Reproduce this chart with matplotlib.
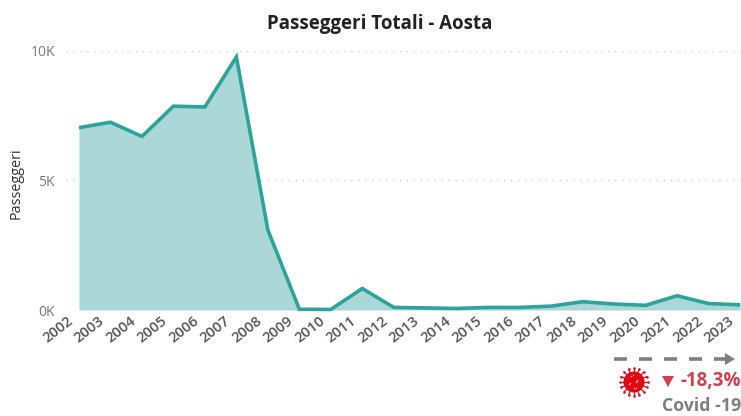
import numpy as np
import matplotlib
matplotlib.use("Agg")
import matplotlib.pyplot as plt
from matplotlib.patches import Circle
from matplotlib.transforms import ScaledTranslation

plt.rcParams['font.family'] = ['Open Sans', 'DejaVu Sans']

years = list(range(2002, 2024))
passeggeri = [7040, 7250, 6700, 7870, 7840, 9770, 3090, 30, 20, 830, 100, 80,
              60, 100, 100, 150, 320, 230, 180, 550, 250, 200]
y_ticks = [0, 5000, 10000]
y_labels = ['0K', '5K', '10K']

W, H = 741, 416
teal = '#2ca39b'

fig = plt.figure(figsize=(W / 100, H / 100), dpi=100)

# axes placed in pixels
left, right, top, bottom = 66, 741, 51, 310
ax = fig.add_axes([left / W, 1 - bottom / H, (right - left) / W, (bottom - top) / H])
step = (740 - 79) / 21
ax.set_xlim(2002 - (79 - left) / step, 2023 + (right - 740) / step)
ax.set_ylim(0, 10000)

ax.fill_between(years, passeggeri, 0, color='#abd7d7', lw=0, zorder=2)
ax.plot(years, passeggeri, color=teal, lw=2.6, zorder=3, clip_on=False,
        solid_joinstyle='miter', solid_capstyle='butt')

ax.set_yticks(y_ticks)
ax.set_yticklabels(y_labels, fontsize=10, color='#777777')
ax.set_xticks(years)
ax.set_xticklabels(years, fontsize=10.5, color='#555555', rotation=38, ha='right',
                   rotation_mode='anchor', fontweight='semibold')
ax.tick_params(axis='both', length=0)
ax.tick_params(axis='x', pad=3)
ax.tick_params(axis='y', pad=8)
# shift the year labels left of their points
shift = ScaledTranslation(-12 / 100, 0, fig.dpi_scale_trans)
for lab in ax.get_xticklabels():
    lab.set_transform(lab.get_transform() + shift)
ax.grid(axis='y', color='#cfcfcf', ls=(0, (1, 4)), lw=1, zorder=1)
for s in ax.spines.values():
    s.set_visible(False)

fig.text(380 / W, 1 - 24 / H, 'Passeggeri Totali - Aosta', fontsize=13.5, fontweight='bold',
         color='#222222', ha='center', va='center')
fig.text(16 / W, 1 - 183 / H, 'Passeggeri', fontsize=10.4, color='#333333', rotation=90,
         ha='center', va='center')

# overlay in pixel coords for the covid note
ov = fig.add_axes([0, 0, 1, 1])
ov.set_xlim(0, W)
ov.set_ylim(H, 0)
ov.axis('off')
ov.patch.set_alpha(0)

for x0 in [614, 639, 664, 689]:
    ov.plot([x0, x0 + 13], [359, 359], color='#808080', lw=2.6, solid_capstyle='butt')
ov.plot([714, 726], [359, 359], color='#808080', lw=2.6, solid_capstyle='butt')
ov.fill([725, 735, 725], [353, 359, 365], color='#808080', lw=0)

# virus icon
cx, cy = 634, 382
ov.add_patch(Circle((cx, cy), 10.5, color='#e30613', lw=0))
for a in np.linspace(0, 2 * np.pi, 16, endpoint=False):
    ov.plot([cx, cx + 14 * np.cos(a)], [cy, cy + 14 * np.sin(a)], color='#e30613', lw=0.9)
    ov.plot(cx + 14 * np.cos(a), cy + 14 * np.sin(a), 'o', color='#e30613', ms=1.8, mew=0)
for a, r in zip(np.linspace(0, 6, 9), [2, 6, 4, 7, 3, 6, 5, 7, 4]):
    ov.plot(cx + r * np.cos(a * 2), cy + r * np.sin(a * 2), 'o', color='#ffb0b0', ms=1.1, mew=0)

ov.fill([662, 674, 668], [376, 376, 387], color='#d13f50', lw=0)
ov.text(741, 381, '-18,3%', fontsize=13.5, fontweight='bold', color='#d13f50', ha='right', va='center')
ov.text(741, 406, 'Covid -19', fontsize=12.8, fontweight='bold', color='#7f7f7f', ha='right', va='center')

fig.savefig('out.png', dpi=100)
